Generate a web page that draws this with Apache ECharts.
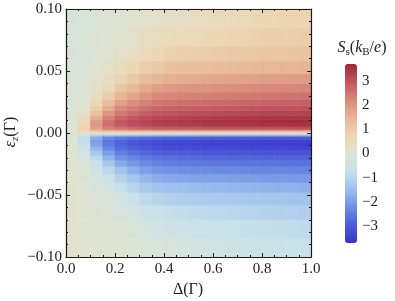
<!DOCTYPE html>
<html><head><meta charset="utf-8">
<script src="https://cdn.jsdelivr.net/npm/echarts@6/dist/echarts.min.js"></script>
<style>html,body{margin:0;padding:0;background:#fff}#c{width:395px;height:301px}</style>
</head><body><div id="c"></div>
<script>
// ---- data ----
const deltaEdges = [0, 0.05, 0.1, 0.15, 0.2, 0.25, 0.3, 0.35, 0.4, 0.45, 0.5, 0.55, 0.6, 0.65, 0.7, 0.75, 0.8, 0.85, 0.9, 0.95, 1.0];
const epsEdges = [-0.1, -0.085, -0.07, -0.058, -0.048, -0.04, -0.033, -0.027, -0.022, -0.018, -0.014, -0.011, -0.008, -0.005, -0.0025, -0.001,
  0.001, 0.0025, 0.005, 0.008, 0.011, 0.014, 0.018, 0.022, 0.027, 0.033, 0.04, 0.048, 0.058, 0.07, 0.085, 0.1];
const xTicks = [0, 0.2, 0.4, 0.6, 0.8, 1.0];
const yTicks = [-0.1, -0.05, 0, 0.05, 0.1];
const cbTicks = [-3, -2, -1, 0, 1, 2, 3];
// value on the thin row at eps = 0, one per Delta column
const sCenter = [0.0, 0.1, 0.2, 0.3, 0.35, 0.4, 0.4, 0.4, 0.4, 0.4, 0.4, 0.4, 0.4, 0.4, 0.4, 0.4, 0.4, 0.4, 0.4, 0.4];
// eps > 0 rows, per Delta column, from eps = 0 outward to eps = 0.1
const sUpper = [
  [0.0, 0.0, -0.02, -0.05, -0.08, -0.1, -0.12, -0.14, -0.16, -0.18, -0.2, -0.22, -0.24, -0.25, -0.26],
  [0.6, 0.85, 0.8, 0.6, 0.4, 0.25, 0.12, 0.03, -0.05, -0.1, -0.13, -0.16, -0.18, -0.2, -0.22],
  [1.1, 1.8, 2.0, 1.9, 1.6, 1.25, 0.95, 0.7, 0.45, 0.28, 0.15, 0.05, -0.05, -0.1, -0.15],
  [1.3, 2.3, 2.6, 2.55, 2.3, 2.0, 1.65, 1.3, 0.95, 0.65, 0.4, 0.2, 0.05, -0.05, -0.1],
  [1.4, 2.5, 2.85, 2.9, 2.7, 2.45, 2.2, 1.85, 1.45, 1.1, 0.8, 0.5, 0.25, 0.05, -0.05],
  [1.45, 2.65, 3.05, 3.1, 2.9, 2.65, 2.4, 2.1, 1.75, 1.4, 1.05, 0.75, 0.45, 0.2, 0.05],
  [1.5, 2.75, 3.15, 3.2, 3.05, 2.8, 2.55, 2.3, 2.0, 1.65, 1.3, 0.95, 0.65, 0.4, 0.15],
  [1.55, 2.8, 3.25, 3.3, 3.15, 2.95, 2.7, 2.45, 2.2, 1.85, 1.45, 1.05, 0.75, 0.5, 0.25],
  [1.55, 2.85, 3.3, 3.35, 3.2, 3.0, 2.75, 2.5, 2.25, 1.95, 1.55, 1.2, 0.85, 0.55, 0.3],
  [1.55, 2.87, 3.33, 3.4, 3.25, 3.05, 2.8, 2.55, 2.3, 2.0, 1.62, 1.25, 0.9, 0.6, 0.36],
  [1.6, 2.88, 3.35, 3.42, 3.28, 3.08, 2.83, 2.58, 2.33, 2.03, 1.66, 1.27, 0.93, 0.65, 0.43],
  [1.6, 2.9, 3.38, 3.45, 3.3, 3.1, 2.85, 2.6, 2.35, 2.05, 1.7, 1.28, 0.95, 0.7, 0.5],
  [1.6, 2.92, 3.4, 3.48, 3.33, 3.13, 2.88, 2.63, 2.38, 2.08, 1.73, 1.32, 1.0, 0.75, 0.55],
  [1.6, 2.93, 3.42, 3.5, 3.36, 3.16, 2.9, 2.65, 2.4, 2.1, 1.75, 1.35, 1.03, 0.78, 0.6],
  [1.6, 2.94, 3.44, 3.52, 3.38, 3.18, 2.92, 2.68, 2.43, 2.13, 1.78, 1.38, 1.05, 0.82, 0.65],
  [1.6, 2.95, 3.45, 3.54, 3.4, 3.2, 2.95, 2.7, 2.45, 2.15, 1.8, 1.4, 1.08, 0.85, 0.7],
  [1.6, 2.96, 3.47, 3.56, 3.42, 3.22, 2.97, 2.75, 2.5, 2.2, 1.85, 1.45, 1.1, 0.9, 0.73],
  [1.6, 2.97, 3.48, 3.58, 3.43, 3.23, 2.98, 2.77, 2.52, 2.22, 1.87, 1.47, 1.12, 0.92, 0.76],
  [1.6, 2.98, 3.49, 3.59, 3.44, 3.24, 2.99, 2.78, 2.53, 2.23, 1.88, 1.48, 1.13, 0.93, 0.78],
  [1.6, 3.0, 3.5, 3.6, 3.45, 3.25, 3.0, 2.8, 2.55, 2.25, 1.9, 1.5, 1.15, 0.95, 0.8]
];
// eps < 0 rows, per Delta column, from eps = 0 outward to eps = -0.1
const sLower = [
  [0.0, 0.0, 0.0, 0.0, 0.01, 0.02, 0.03, 0.04, 0.05, 0.06, 0.08, 0.1, 0.1, 0.12, 0.12],
  [-0.6, -0.85, -0.8, -0.7, -0.55, -0.4, -0.28, -0.2, -0.15, -0.1, -0.05, 0.0, 0.04, 0.06, 0.08],
  [-1.1, -1.8, -2.0, -1.9, -1.6, -1.25, -0.95, -0.7, -0.5, -0.35, -0.25, -0.15, -0.1, -0.05, 0.0],
  [-1.3, -2.3, -2.6, -2.55, -2.3, -2.0, -1.65, -1.3, -0.95, -0.65, -0.42, -0.25, -0.1, -0.03, 0.02],
  [-1.4, -2.5, -2.85, -2.9, -2.7, -2.45, -2.15, -1.8, -1.4, -1.05, -0.75, -0.45, -0.25, -0.08, 0.0],
  [-1.45, -2.65, -3.05, -3.1, -2.9, -2.65, -2.35, -2.05, -1.7, -1.35, -1.0, -0.7, -0.42, -0.2, -0.08],
  [-1.5, -2.75, -3.15, -3.2, -3.05, -2.8, -2.5, -2.25, -1.95, -1.6, -1.25, -0.9, -0.6, -0.35, -0.15],
  [-1.55, -2.8, -3.25, -3.3, -3.15, -2.9, -2.65, -2.4, -2.1, -1.75, -1.38, -1.0, -0.7, -0.45, -0.22],
  [-1.55, -2.85, -3.3, -3.35, -3.2, -2.95, -2.7, -2.45, -2.15, -1.82, -1.45, -1.1, -0.78, -0.5, -0.28],
  [-1.55, -2.87, -3.33, -3.4, -3.25, -3.0, -2.75, -2.5, -2.2, -1.87, -1.5, -1.15, -0.83, -0.55, -0.33],
  [-1.6, -2.88, -3.35, -3.42, -3.27, -3.02, -2.77, -2.52, -2.22, -1.9, -1.53, -1.18, -0.87, -0.6, -0.4],
  [-1.6, -2.9, -3.38, -3.45, -3.28, -3.03, -2.78, -2.53, -2.24, -1.92, -1.56, -1.2, -0.9, -0.63, -0.44],
  [-1.6, -2.92, -3.4, -3.47, -3.3, -3.05, -2.8, -2.55, -2.26, -1.94, -1.59, -1.23, -0.93, -0.67, -0.48],
  [-1.6, -2.93, -3.42, -3.49, -3.32, -3.07, -2.82, -2.57, -2.28, -1.96, -1.61, -1.26, -0.96, -0.7, -0.52],
  [-1.6, -2.94, -3.43, -3.5, -3.33, -3.08, -2.83, -2.58, -2.3, -1.98, -1.63, -1.28, -0.99, -0.73, -0.56],
  [-1.6, -2.95, -3.44, -3.51, -3.34, -3.09, -2.84, -2.59, -2.32, -2.0, -1.65, -1.3, -1.02, -0.76, -0.6],
  [-1.6, -2.96, -3.45, -3.52, -3.35, -3.1, -2.85, -2.6, -2.33, -2.02, -1.67, -1.32, -1.05, -0.79, -0.63],
  [-1.6, -2.97, -3.46, -3.53, -3.36, -3.11, -2.86, -2.61, -2.34, -2.04, -1.69, -1.34, -1.08, -0.82, -0.66],
  [-1.6, -2.98, -3.47, -3.54, -3.37, -3.12, -2.87, -2.62, -2.35, -2.05, -1.7, -1.36, -1.1, -0.85, -0.69],
  [-1.6, -3.0, -3.48, -3.55, -3.38, -3.13, -2.88, -2.63, -2.36, -2.06, -1.72, -1.38, -1.12, -0.88, -0.72]
];
const colorRange = [-3.7, 3.7];
const palette = ['#3a33cc', '#4b5cd9', '#6d8ee4', '#9ebfee', '#c6e0ea', '#dfe4d2', '#ecd6b4', '#e8b694', '#d8887a', '#c05460', '#9e2638'];

// ---- build cells ----
const cells = [];
for (let i = 0; i < deltaEdges.length - 1; i++) {
  const col = sLower[i].slice().reverse().concat([sCenter[i]], sUpper[i]);
  for (let j = 0; j < col.length; j++) {
    cells.push([deltaEdges[i], deltaEdges[i + 1], epsEdges[j], epsEdges[j + 1], col[j]]);
  }
}

const FONT = 'Liberation Serif';
const INK = '#1a1a1a';
const minus = s => String(s).replace('-', '\u2212');

function frameAxis(extra) {
  return Object.assign({
    type: 'value', gridIndex: 0, z: 10,
    axisLine: { show: true, onZero: false, lineStyle: { color: INK, width: 1.2 } },
    axisTick: { show: true, inside: true, length: 4, lineStyle: { color: INK, width: 1 } },
    minorTick: { show: true, length: 2, lineStyle: { color: INK, width: 1 } },
    splitLine: { show: false }, minorSplitLine: { show: false }
  }, extra);
}

const chart = echarts.init(document.getElementById('c'), null, { renderer: 'canvas' });
chart.setOption({
  animation: false,
  backgroundColor: '#fff',
  grid: [
    { left: 66, top: 9, width: 245, height: 248, show: false },
    { left: 345, top: 64, width: 12, height: 179, show: false }
  ],
  xAxis: [
    frameAxis({ min: xTicks[0], max: xTicks[xTicks.length - 1], interval: 0.2, position: 'bottom',
      minorTick: { show: true, splitNumber: 4, length: 2, lineStyle: { color: INK } },
      axisLabel: { margin: 5, fontFamily: FONT, fontSize: 15, color: '#222', formatter: v => v.toFixed(1) } }),
    frameAxis({ min: xTicks[0], max: xTicks[xTicks.length - 1], interval: 0.2, position: 'top',
      minorTick: { show: true, splitNumber: 4, length: 2, lineStyle: { color: INK } },
      axisLabel: { show: false } }),
    { type: 'value', gridIndex: 1, min: 0, max: 1, show: false }
  ],
  yAxis: [
    frameAxis({ min: yTicks[0], max: yTicks[yTicks.length - 1], interval: 0.05, position: 'left',
      minorTick: { show: true, splitNumber: 5, length: 2, lineStyle: { color: INK } },
      axisLabel: { margin: 4, fontFamily: FONT, fontSize: 15, color: '#222', formatter: v => minus(v.toFixed(2)) } }),
    frameAxis({ min: yTicks[0], max: yTicks[yTicks.length - 1], interval: 0.05, position: 'right',
      minorTick: { show: true, splitNumber: 5, length: 2, lineStyle: { color: INK } },
      axisLabel: { show: false } }),
    { type: 'value', gridIndex: 1, min: colorRange[0], max: colorRange[1], position: 'right',
      axisLine: { show: false }, axisTick: { show: false }, splitLine: { show: false },
      axisLabel: { customValues: cbTicks, margin: 5, fontFamily: FONT, fontSize: 15, color: '#222', formatter: v => minus(v) } }
  ],
  visualMap: {
    type: 'continuous', seriesIndex: 0, dimension: 4, min: colorRange[0], max: colorRange[1],
    calculable: false, hoverLink: false, orient: 'vertical', left: 345, top: 64,
    itemWidth: 12, itemHeight: 179, padding: 0, text: null, showLabel: false,
    inRange: { color: palette }
  },
  graphic: [
    { type: 'text', x: 188, y: 290, style: { text: '{n|\u0394(\u0393)}', align: 'center', verticalAlign: 'middle',
        rich: { n: { fontFamily: FONT, fontSize: 16, fill: '#222' } } } },
    { type: 'text', x: 11, y: 132, rotation: Math.PI / 2, style: { text: '{i|\u03b5}{s|z}{n|(\u0393)}', align: 'center', verticalAlign: 'middle',
        rich: { i: { fontFamily: FONT, fontSize: 16, fontStyle: 'italic', fill: '#222', lineHeight: 20, verticalAlign: 'middle' },
                s: { fontFamily: FONT, fontSize: 11, fontStyle: 'italic', fill: '#222', lineHeight: 20, verticalAlign: 'bottom' },
                n: { fontFamily: FONT, fontSize: 16, fill: '#222', lineHeight: 20, verticalAlign: 'middle' } } } },
    { type: 'text', x: 362, y: 48, style: { text: '{i|S}{s|s}{n|(}{i|k}{s|B}{n|/}{i|e}{n|)}', align: 'center', verticalAlign: 'middle',
        rich: { i: { fontFamily: FONT, fontSize: 16, fontStyle: 'italic', fill: '#222', lineHeight: 20, verticalAlign: 'middle' },
                s: { fontFamily: FONT, fontSize: 11, fill: '#222', lineHeight: 20, verticalAlign: 'bottom' },
                n: { fontFamily: FONT, fontSize: 16, fill: '#222', lineHeight: 20, verticalAlign: 'middle' } } } }
  ],
  series: [{
    type: 'custom', xAxisIndex: 0, yAxisIndex: 0, z: 1,
    encode: { x: [0, 1], y: [2, 3] },
    data: cells,
    renderItem: function (params, api) {
      const p0 = api.coord([api.value(0), api.value(3)]);
      const p1 = api.coord([api.value(1), api.value(2)]);
      const c = api.visual('color');
      return { type: 'rect', shape: { x: p0[0], y: p0[1], width: p1[0] - p0[0], height: p1[1] - p0[1] },
               style: { fill: c, stroke: c, lineWidth: 0.6 } };
    }
  }]
});
</script></body></html>
